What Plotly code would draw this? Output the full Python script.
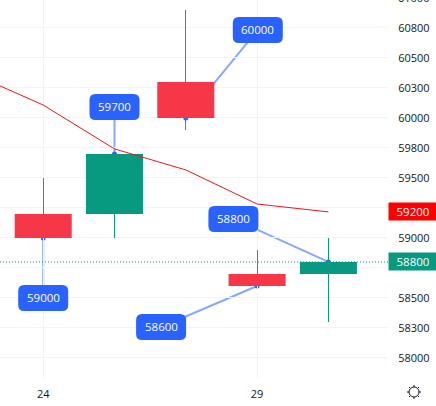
import plotly.graph_objects as go

# Session positions on an evenly spaced axis; only two of them carry a date label
sessions = [0, 1, 2, 3, 4]
session_ticks = [0, 3]
session_labels = ["24", "29"]

opens = [59000, 59700, 60000, 58600, 58800]
highs = [59500, 59700, 60900, 58900, 59000]
lows = [59000, 59000, 59900, 58600, 58300]
closes = [59200, 59200, 60300, 58700, 58700]

# Moving average, starting one session before the first candle
ma_sessions = [-1, 0, 1, 2, 3, 4]
ma_values = [60370, 60108, 59742, 59567, 59283, 59217]

# The two scale steps hidden under the price tags stay unlabelled
price_ticks = [58000, 58250, 58500, 58750, 59000, 59250, 59500, 59750,
               60000, 60250, 60500, 60750]
price_labels = ["58000", "58300", "58500", "", "59000", "", "59500",
                "59800", "60000", "60300", "60500", "60800"]
top_price = 61000
top_price_label = "61000"
price_min, price_max = 57833, 60983

last_close = 58800
last_close_label = "58800"
last_ma = 59217
last_ma_label = "59200"

callout_sessions = [0, 1, 2, 3, 4]
callout_prices = [59000, 59700, 60000, 58600, 58800]
callout_labels = ["59000", "59700", "60000", "58600", "58800"]
# Label box centre relative to its anchor, in screen pixels (right, down)
callout_offsets = [(0, 60), (0, -47), (72, -88), (-96, 41), (-95, -43)]

UP = "#F53748"
DOWN = "#089981"
BLUE = "#2962FF"
LEADER = "#86A8FF"
GRID = "#F2F3F5"
INK = "#131722"
FONT = "Open Sans"

candle_colors = [UP if c >= o else DOWN for o, c in zip(opens, closes)]
body_base = [min(o, c) for o, c in zip(opens, closes)]
body_size = [abs(c - o) for o, c in zip(opens, closes)]
wick_size = [h - l for h, l in zip(highs, lows)]

fig = go.Figure()

# Wicks and bodies are overlaid bars so the body width can fill 80% of a session
fig.add_trace(go.Bar(
    x=sessions, y=wick_size, base=lows, width=0.002,
    marker=dict(color=candle_colors, line=dict(width=0)),
    hoverinfo="skip", showlegend=False,
))
fig.add_trace(go.Bar(
    x=sessions, y=body_size, base=body_base, width=0.8,
    marker=dict(color=candle_colors, line=dict(width=0)),
    hoverinfo="skip", showlegend=False,
))
fig.add_trace(go.Scatter(
    x=ma_sessions, y=ma_values, mode="lines",
    line=dict(color="#F4121F", width=1),
    hoverinfo="skip", showlegend=False,
))


def rounded_box(cx, cy, w=50, h=26, r=6):
    # Pixel path around (cx, cy); pixel y grows upward from the anchor
    l, rt, b, t = cx - w / 2, cx + w / 2, -cy - h / 2, -cy + h / 2
    return (f"M{l + r},{b} L{rt - r},{b} Q{rt},{b} {rt},{b + r} L{rt},{t - r} "
            f"Q{rt},{t} {rt - r},{t} L{l + r},{t} Q{l},{t} {l},{t - r} "
            f"L{l},{b + r} Q{l},{b} {l + r},{b} Z")


shapes = []
annotations = []

for s, p, label, (dx, dy) in zip(callout_sessions, callout_prices, callout_labels, callout_offsets):
    anchor = dict(xref="x", yref="y", xsizemode="pixel", ysizemode="pixel", xanchor=s, yanchor=p)
    shapes.append(dict(type="line", x0=0, y0=0, x1=dx, y1=-dy, layer="below",
                       line=dict(color=LEADER, width=2), **anchor))
    shapes.append(dict(type="circle", x0=-2.5, y0=-2.5, x1=2.5, y1=2.5, layer="below",
                       fillcolor=BLUE, line=dict(width=0), **anchor))
    shapes.append(dict(type="path", path=rounded_box(dx, dy), layer="above",
                       fillcolor=BLUE, line=dict(width=0), **anchor))
    annotations.append(dict(x=s, y=p, xref="x", yref="y", text=label, showarrow=False,
                            xanchor="center", yanchor="middle", xshift=dx, yshift=-dy,
                            font=dict(family=FONT, size=11.5, color="white", weight=500)))

# Last-price guide
shapes.append(dict(type="line", xref="paper", yref="y", x0=0, x1=1,
                   y0=last_close, y1=last_close, layer="above",
                   line=dict(color=DOWN, width=1, dash="1px,2px")))

# Price tags sitting on the right-hand scale
for price, label, color in [(last_ma, last_ma_label, "#FF0000"), (last_close, last_close_label, DOWN)]:
    annotations.append(dict(x=1, xref="paper", y=price, yref="y", text=label, showarrow=False,
                            xanchor="left", yanchor="middle", width=48, height=17, align="center",
                            bgcolor=color, borderpad=0,
                            font=dict(family=FONT, size=11.5, color="white", weight=500)))

# Top scale label, cut off by the page edge
annotations.append(dict(x=1, xref="paper", yref="paper",
                        y=(top_price - price_min) / (price_max - price_min),
                        text=top_price_label, showarrow=False,
                        xanchor="left", yanchor="middle", xshift=8,
                        font=dict(family=FONT, size=11, color=INK)))

# Settings glyph in the corner between the two scales
gear = dict(xref="paper", yref="paper", xsizemode="pixel", ysizemode="pixel",
            xanchor=414 / 388, yanchor=-14 / 378)
shapes.append(dict(type="circle", x0=-5, y0=-5, x1=5, y1=5,
                   line=dict(color=INK, width=1), fillcolor="white", **gear))
for x0, y0, x1, y1 in [(0, 5, 0, 7), (0, -5, 0, -7), (5, 0, 7, 0), (-5, 0, -7, 0),
                       (4, 4, 5, 5), (-4, 4, -5, 5), (4, -4, 5, -5), (-4, -4, -5, -5)]:
    shapes.append(dict(type="line", x0=x0, y0=y0, x1=x1, y1=y1,
                       line=dict(color=INK, width=1), **gear))

fig.update_layout(
    width=436, height=406, autosize=False,
    margin=dict(l=0, r=48, t=0, b=28),
    paper_bgcolor="white", plot_bgcolor="white",
    font=dict(family=FONT, size=11, color=INK),
    hovermode=False, dragmode=False, showlegend=False,
    barmode="overlay",
    shapes=shapes, annotations=annotations,
    xaxis=dict(
        range=[-0.6059, 4.8359], tickmode="array", tickvals=session_ticks, ticktext=session_labels,
        showgrid=True, gridcolor=GRID, gridwidth=1, zeroline=False, showline=False,
        ticks="outside", ticklen=6, tickcolor="rgba(0,0,0,0)", fixedrange=True,
    ),
    yaxis=dict(
        range=[price_min, price_max], side="right", tickmode="array",
        tickvals=price_ticks, ticktext=price_labels,
        showgrid=True, gridcolor=GRID, gridwidth=1, zeroline=False, showline=False,
        ticks="outside", ticklen=7, tickcolor="rgba(0,0,0,0)", fixedrange=True,
    ),
)

fig.write_html("out.html", config=dict(displayModeBar=False))
